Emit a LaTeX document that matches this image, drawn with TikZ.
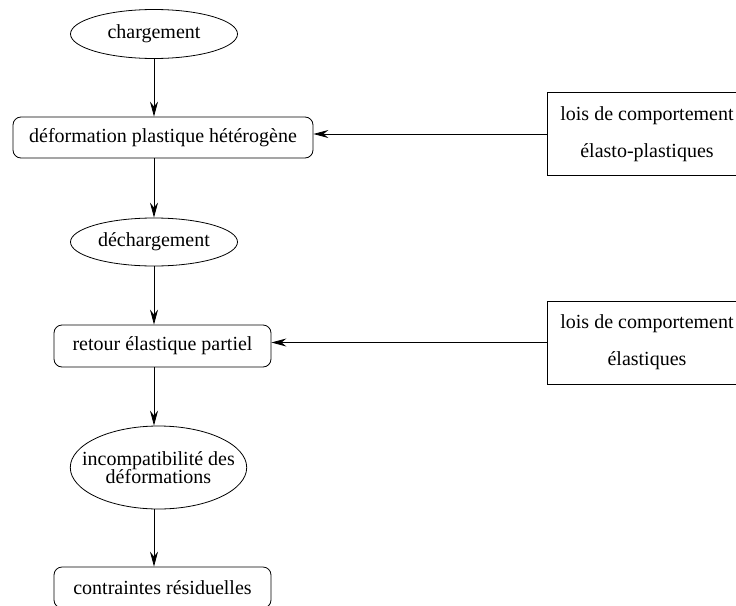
\documentclass[tikz,border=0pt]{standalone}
\usepackage{fontspec}
\setmainfont{Liberation Serif}
\usetikzlibrary{shapes.geometric,arrows.meta}
\newcommand\mytightlines{\fontsize{20}{18}\selectfont\lineskiplimit=-30pt\relax}
\begin{document}
\begin{tikzpicture}[x=1pt,y=-1pt,
  every node/.style={font=\fontsize{20}{24}\selectfont, inner sep=0pt},
  oval/.style={draw, ellipse, line width=0.8pt},
  rbox/.style={draw, rounded corners=8pt, line width=0.8pt},
  sbox/.style={draw, line width=0.8pt, minimum width=200pt, minimum height=83pt, align=center,
    font=\fontsize{20}{37}\selectfont},
  conn/.style={line width=0.8pt, -{Stealth[length=15pt,width=8pt,inset=5pt]}}]
\clip (0,0) rectangle (736,605);
\useasboundingbox (0,0) rectangle (736,605);
\node[oval, minimum width=167pt, minimum height=49pt] (chg) at (154,34) {chargement};
\node[rbox, minimum width=300pt, minimum height=41pt] (def) at (163,137.5) {déformation plastique hétérogène};
\node[oval, minimum width=167pt, minimum height=48pt] (dec) at (154,242) {déchargement};
\node[rbox, minimum width=217pt, minimum height=42pt] (ret) at (162.5,346) {retour élastique partiel};
\node[oval, inner xsep=-14pt, minimum width=175pt, minimum height=83pt, align=center,
  font=\mytightlines] (inc) at (158.5,467.5) {incompatibilité des\\déformations};
\node[rbox, minimum width=217pt, minimum height=41pt] (con) at (162.5,587.5) {contraintes résiduelles};
\node[sbox] (lep) at (647,134) {lois de comportement\\élasto-plastiques};
\node[sbox] (le) at (647,342.5) {lois de comportement\\élastiques};
\draw[conn] (chg.south) -- (chg.south |- def.north);
\draw[conn] (chg |- def.south) -- (dec.north);
\draw[conn] (dec.south) -- (dec.south |- ret.north);
\draw[conn] (dec |- ret.south) -- (dec |- inc.north);
\draw[conn] (dec |- inc.south) -- (dec |- con.north);
\draw[conn] (lep.west) -- (lep.west -| def.east);
\draw[conn] (le.west) -- (le.west -| ret.east);
\end{tikzpicture}
\end{document}
